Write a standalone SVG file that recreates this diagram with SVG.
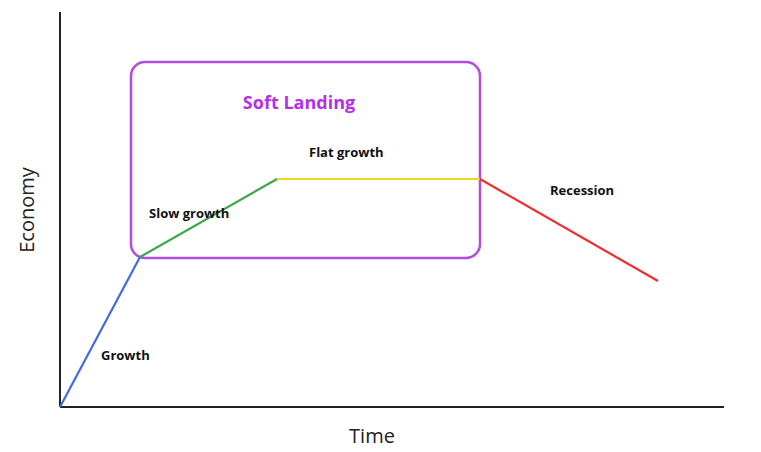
<svg xmlns="http://www.w3.org/2000/svg" width="761" height="452" viewBox="0 0 761 452">
<style>
.lbl{font-family:"Open Sans","Liberation Sans",sans-serif;font-weight:bold;font-size:13px;fill:#111}
.ax{font-family:"Open Sans","Liberation Sans",sans-serif;font-size:20px;fill:#222}
.seg{stroke-width:2.2;fill:none}
</style>
<rect width="761" height="452" fill="#fff"/>
<g id="axes" stroke="#222" stroke-width="2">
<line x1="60" y1="12" x2="60" y2="407"/>
<line x1="60" y1="407" x2="724" y2="407"/>
</g>
<g id="soft-landing">
<rect x="131" y="62" width="349" height="196" rx="14" fill="none" stroke="#b44be1" stroke-width="2.5"/>
<text x="299" y="109" text-anchor="middle" font-family="Open Sans,Liberation Sans,sans-serif" font-weight="bold" font-size="18" fill="#b62fe8">Soft Landing</text>
</g>
<g id="connectors">
<line class="seg" x1="60" y1="407" x2="140" y2="257" stroke="#4169e1"/>
<line class="seg" x1="140" y1="257" x2="277" y2="179" stroke="#3aa847"/>
<line class="seg" x1="277" y1="179" x2="480" y2="179" stroke="#f5d31e"/>
<line class="seg" x1="480" y1="179" x2="658" y2="281" stroke="#ee2d2d"/>
</g>
<g id="labels">
<text class="lbl" x="101" y="360">Growth</text>
<text class="lbl" x="149" y="218">Slow growth</text>
<text class="lbl" x="309" y="157">Flat growth</text>
<text class="lbl" x="550" y="195">Recession</text>
<text class="ax" x="372" y="443" text-anchor="middle">Time</text>
<text class="ax" transform="translate(34,210) rotate(-90)" text-anchor="middle">Economy</text>
</g>
</svg>
